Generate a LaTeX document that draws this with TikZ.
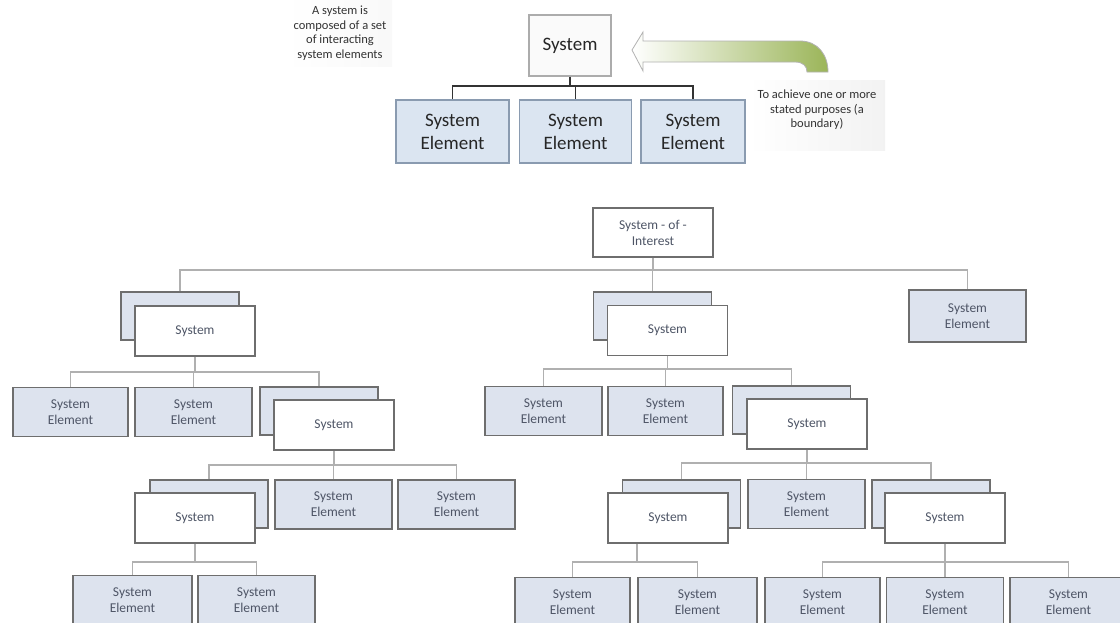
\documentclass[tikz,border=0pt]{standalone}
\usepackage{fontspec}
\setmainfont{Carlito}
\definecolor{seblue}{HTML}{DBE5F1}
\definecolor{seborder}{HTML}{8A9BB0}
\definecolor{lowblue}{HTML}{DDE3EE}
\definecolor{lowborder}{HTML}{6E6E6E}
\definecolor{lowtext}{HTML}{4E5566}
\definecolor{conngray}{HTML}{B0B0B0}
\definecolor{arrowgreen}{HTML}{9BB559}
\begin{document}
\begin{tikzpicture}[x=1pt,y=-1pt,
  topse/.style={draw=seborder, fill=seblue, line width=1.2pt, minimum height=63pt, inner sep=0pt, align=center, font=\fontsize{19}{23}\selectfont, text=black!85},
  topsys/.style={draw=gray!65, fill=gray!4, line width=1.2pt, minimum width=82pt, minimum height=61pt, inner sep=0pt, font=\fontsize{19}{23}\selectfont, text=black!85},
  topconn/.style={draw=black!80, line width=1.6pt},
  note/.style={align=center, font=\fontsize{12.5}{14.5}\selectfont, text=black!80},
  se/.style={draw=lowborder, fill=lowblue, line width=1.8pt, minimum width=117pt, minimum height=49pt, inner sep=0pt, align=center, font=\fontsize{13.5}{16}\selectfont, text=lowtext},
  sysback/.style={draw=lowborder, fill=lowblue, line width=1.8pt, minimum width=118pt, minimum height=48pt, inner sep=0pt},
  sysfront/.style={draw=lowborder, fill=white, line width=1.8pt, minimum width=120pt, minimum height=50pt, inner sep=0pt, font=\fontsize{13.5}{16}\selectfont, text=lowtext},
  rootbox/.style={draw=lowborder, fill=white, line width=2.6pt, minimum width=120pt, minimum height=49pt, inner sep=0pt, align=center, font=\fontsize{13.5}{16}\selectfont, text=lowtext},
  conn/.style={draw=conngray, line width=1.6pt},
]
\useasboundingbox (0,0) rectangle (1120,622);
\clip (0,0) rectangle (1120,622);
\fill[white] (0,0) rectangle (1120,622);

% ---------- upper part ----------
\shade[left color=white, right color=gray!5] (285,0) rectangle (392,66);
\shade[left color=white, right color=gray!10] (748,80) rectangle (885,150);
\node[note] (n1) at (340,33) {A system is\\composed of a set\\of interacting\\system elements};
\node[note] (n2) at (817,110) {To achieve one or more\\stated purposes (a\\boundary)};

\node[topsys] (sys) at (570,45.5) {System};
\node[topse, minimum width=113pt] (e1) at (452.5,131.5) {System\\Element};
\node[topse, minimum width=112pt] (e2) at (575.5,131.5) {System\\Element};
\node[topse, minimum width=104pt] (e3) at (693,131.5) {System\\Element};
\coordinate (tbus) at (0,86);
\draw[topconn] (sys.south) -- (sys.south |- tbus) -| (e1.north);
\draw[topconn] (sys.south |- tbus) -| (e2.north);
\draw[topconn] (sys.south |- tbus) -| (e3.north);

\path[draw=gray!60, line width=0.8pt, left color=white, right color=arrowgreen]
  (632,50) -- (643,32) -- (643,41) -- (800,41)
  .. controls (818,41) and (828,55) .. (828,72) -- (807,72)
  .. controls (807,66) and (803,62) .. (795,62) -- (643,62) -- (643,71) -- cycle;

% ---------- lower part ----------
\node[rootbox] (soi) at (653,232.5) {System - of -\\Interest};

% level 1
\node[sysback] (aB) at (180,316) {};
\node[sysfront] (a) at (195,331) {System};
\node[sysback] (bB) at (652.5,316) {};
\node[sysfront] (b) at (667.5,330.5) {System};
\node[se, minimum height=52pt] (c) at (967.5,316) {System\\Element};
\coordinate (bus0) at (0,270);
\draw[conn] (soi.south) -- (soi.south |- bus0) -| (aB.north);
\draw[conn] (soi.south |- bus0) -| (bB.north);
\draw[conn] (soi.south |- bus0) -| (c.north);

% level 2 left
\node[se, minimum width=115pt] (a1) at (70.5,412) {System\\Element};
\node[se] (a2) at (193.5,412) {System\\Element};
\node[sysback] (a3B) at (319,411) {};
\node[sysfront] (a3) at (334,425) {System};
\coordinate (bus1) at (0,372);
\draw[conn] (a.south) -- (a.south |- bus1) -| (a1.north);
\draw[conn] (a.south |- bus1) -| (a2.north);
\draw[conn] (a.south |- bus1) -| (a3B.north);

% level 2 middle
\node[se] (b1) at (543.5,411) {System\\Element};
\node[se, minimum width=115pt] (b2) at (665.5,411) {System\\Element};
\node[sysback] (b3B) at (791.5,410) {};
\node[sysfront] (b3) at (807,424) {System};
\coordinate (bus2) at (0,369);
\draw[conn] (b.south) -- (b.south |- bus2) -| (b1.north);
\draw[conn] (b.south |- bus2) -| (b2.north);
\draw[conn] (b.south |- bus2) -| (b3B.north);

% level 3 left
\node[sysback] (a31B) at (209,504) {};
\node[sysfront] (a31) at (195,518) {System};
\node[se] (a32) at (333.5,504.5) {System\\Element};
\node[se] (a33) at (456.5,504.5) {System\\Element};
\coordinate (bus3) at (0,465);
\draw[conn] (a3.south) -- (a3.south |- bus3) -| (a31B.north);
\draw[conn] (a3.south |- bus3) -| (a32.north);
\draw[conn] (a3.south |- bus3) -| (a33.north);

% level 3 right
\node[sysback] (b31B) at (681.5,504) {};
\node[sysfront] (b31) at (668,518) {System};
\node[se] (b32) at (806.5,504) {System\\Element};
\node[sysback] (b33B) at (931,504) {};
\node[sysfront] (b33) at (945,518) {System};
\coordinate (bus4) at (0,463);
\draw[conn] (b3.south) -- (b3.south |- bus4) -| (b31B.north);
\draw[conn] (b3.south |- bus4) -| (b32.north);
\draw[conn] (b3.south |- bus4) -| (b33B.north);

% level 4
\node[se, minimum width=119pt] (a311) at (132.5,600) {System\\Element};
\node[se] (a312) at (256.5,600) {System\\Element};
\coordinate (bus5) at (0,562);
\draw[conn] (a31.south) -- (a31.south |- bus5) -| (a311.north);
\draw[conn] (a31.south |- bus5) -| (a312.north);

\node[se, minimum width=115pt] (b311) at (572.5,602) {System\\Element};
\node[se, minimum width=119pt] (b312) at (697.5,602) {System\\Element};
\coordinate (b31d) at ([xshift=-31pt]b31.south);
\draw[conn] (b31d) -- (b31d |- bus5) -| (b311.north);
\draw[conn] (b31d |- bus5) -| (b312.north);

\node[se, minimum width=115pt] (b331) at (822.5,602) {System\\Element};
\node[se] (b332) at (945,602) {System\\Element};
\node[se] (b333) at (1068.5,602) {System\\Element};
\draw[conn] (b33.south) -- (b33.south |- bus5) -| (b331.north);
\draw[conn] (b33.south |- bus5) -| (b332.north);
\draw[conn] (b33.south |- bus5) -| (b333.north);
\end{tikzpicture}
\end{document}
